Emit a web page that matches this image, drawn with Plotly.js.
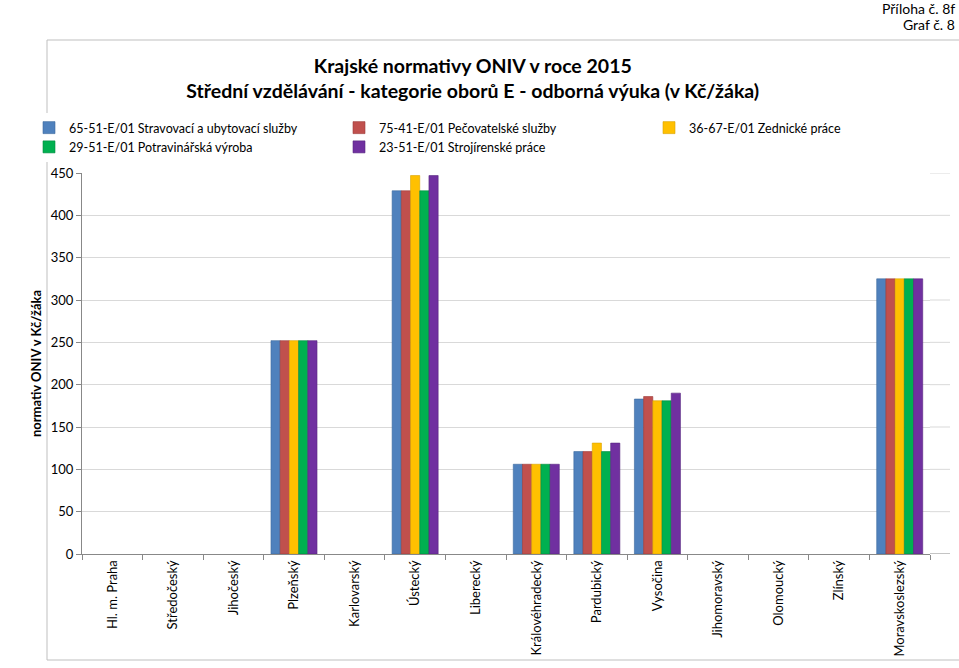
<!DOCTYPE html>
<html>
<head>
<meta charset="utf-8">
<script src="https://cdn.plot.ly/plotly-3.0.1.min.js"></script>
<style>
  html, body { margin: 0; padding: 0; background: #fff; }
  #chart { width: 959px; height: 668px; }
</style>
</head>
<body>
<div id="chart"></div>
<script>
// Kraje (categories on the x axis)
const regions = ['Hl. m. Praha', 'Středočeský', 'Jihočeský', 'Plzeňský', 'Karlovarský', 'Ústecký',
  'Liberecký', 'Královéhradecký', 'Pardubický', 'Vysočina', 'Jihomoravský', 'Olomoucký', 'Zlínský', 'Moravskoslezský'];

// normativ ONIV v Kč/žáka, one array per obor (null = region not shown)
const stravovaci   = [null, null, null, 252, null, 429, null, 106, 121, 183, null, null, null, 325];
const pecovatelske = [null, null, null, 252, null, 429, null, 106, 121, 186, null, null, null, 325];
const zednicke     = [null, null, null, 252, null, 447, null, 106, 131, 181, null, null, null, 325];
const potravinar   = [null, null, null, 252, null, 429, null, 106, 121, 181, null, null, null, 325];
const strojirenske = [null, null, null, 252, null, 447, null, 106, 131, 190, null, null, null, 325];

const seriesNames = [
  '65-51-E/01 Stravovací a ubytovací služby',
  '75-41-E/01 Pečovatelské služby',
  '36-67-E/01 Zednické práce',
  '29-51-E/01 Potravinářská výroba',
  '23-51-E/01 Strojírenské práce',
];
const seriesValues = [stravovaci, pecovatelske, zednicke, potravinar, strojirenske];
const seriesColors = ['#4F81BD', '#C0504D', '#FFC000', '#00B050', '#7030A0'];
const seriesEdges  = ['#3c6a9e', '#9c3b39', '#d9a300', '#008a3e', '#582680'];

const yTicks = [0, 50, 100, 150, 200, 250, 300, 350, 400, 450];

const FONT = 'Lato, "Open Sans", sans-serif';
const PLOT_W = 848;   // px width of the plot area (l=82 .. 930)
const PLOT_H = 381;   // px height of the plot area (173 .. 554)
const px = v => (v - 82) / PLOT_W;
const py = v => (554 - v) / PLOT_H;

const traces = seriesNames.map((name, i) => ({
  type: 'bar',
  name: name,
  x: regions,
  y: seriesValues[i],
  marker: { color: seriesColors[i], line: { color: seriesEdges[i], width: 0.6 } },
  hoverinfo: 'x+y+name',
}));

// the gridlines and the axis line run a little past the last category
const gridExt = yTicks.map(t => ({
  type: 'line', xref: 'paper', yref: 'y', x0: 1, x1: px(950), y0: t, y1: t,
  line: { color: t === 0 ? '#888' : '#d9d9d9', width: 1 }, layer: 'below',
}));

const layout = {
  width: 959,
  height: 668,
  paper_bgcolor: '#fff',
  plot_bgcolor: '#fff',
  font: { family: FONT, size: 13, color: '#000' },
  margin: { l: 82, r: 29, t: 173, b: 114 },
  barmode: 'group',
  bargap: 0.24,
  bargroupgap: 0,
  title: {
    text: '<b>Krajské normativy ONIV v roce 2015<br>Střední vzdělávání - kategorie oborů E - odborná výuka (v Kč/žáka)</b>',
    font: { family: FONT, size: 19.5, color: '#000' },
    xref: 'container', x: 0.493, xanchor: 'center',
    yref: 'container', y: 1 - 73 / 668, yanchor: 'middle',
  },
  legend: {
    orientation: 'h',
    x: px(30), xanchor: 'left',
    y: py(113), yanchor: 'top',
    entrywidth: 265,
    entrywidthmode: 'pixels',
    font: { family: FONT, size: 12.5, color: '#000' },
    itemclick: false,
    tracegroupgap: 0,
  },
  xaxis: {
    type: 'category',
    tickangle: -90,
    showline: true,
    linecolor: '#888',
    ticks: 'outside',
    tickson: 'boundaries',
    ticklen: 5,
    tickcolor: '#888',
    showgrid: false,
    tickfont: { family: FONT, size: 13, color: '#000' },
  },
  yaxis: {
    range: [0, 450],
    tickvals: yTicks,
    showline: true,
    linecolor: '#888',
    ticks: 'outside',
    ticklen: 5,
    tickcolor: '#888',
    showgrid: true,
    gridcolor: '#d9d9d9',
    zeroline: false,
    tickfont: { family: FONT, size: 13, color: '#000' },
    title: { text: '<b>normativ ONIV v Kč/žáka</b>', font: { family: FONT, size: 13, color: '#000' }, standoff: 6 },
  },
  shapes: [
    {
      type: 'rect', xref: 'paper', yref: 'paper',
      x0: px(47), x1: px(975), y0: py(660), y1: py(40),
      line: { color: '#bfbfbf', width: 1 }, fillcolor: 'rgba(0,0,0,0)', layer: 'below',
    },
    ...gridExt,
  ],
  annotations: [
    { text: 'Příloha č. 8f', xref: 'paper', yref: 'paper', x: px(957), y: py(8),
      xanchor: 'right', yanchor: 'middle', showarrow: false, font: { family: FONT, size: 14, color: '#000' } },
    { text: 'Graf č. 8', xref: 'paper', yref: 'paper', x: px(957), y: py(25),
      xanchor: 'right', yanchor: 'middle', showarrow: false, font: { family: FONT, size: 14, color: '#000' } },
  ],
};

Plotly.newPlot('chart', traces, layout, { displayModeBar: false, staticPlot: true });
</script>
</body>
</html>
